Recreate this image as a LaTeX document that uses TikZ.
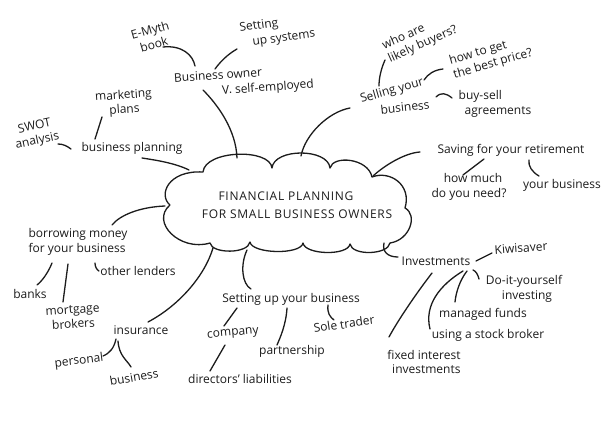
\documentclass[tikz,border=0pt]{standalone}
\usepackage{fontspec}
\setmainfont{Open Sans}
\definecolor{ink}{HTML}{1C1C1C}
\begin{document}
\begin{tikzpicture}[x=1pt,y=-1pt,
  lbl/.style={font=\fontsize{12}{14.5}\selectfont, inner sep=1pt, align=center, text=ink},
  ttl/.style={font=\fontsize{12}{13}\selectfont\addfontfeature{LetterSpace=6}, inner sep=1pt, text=ink},
  con/.style={draw=ink, line width=1.3pt, line cap=round, line join=round},
]
\useasboundingbox (0,0) rectangle (602,423);
\fill[white] (0,0) rectangle (602,423);

% ---------- cloud ----------
\draw[con] (170,205) .. controls (158,195) and (168,170) .. (203,172)
  .. controls (205,150) and (270,148) .. (272,168)
  .. controls (274,148) and (328,148) .. (330,168)
  .. controls (333,155) and (368,158) .. (372,177)
  .. controls (390,170) and (412,185) .. (405,208)
  .. controls (418,215) and (410,240) .. (390,243)
  .. controls (388,255) and (352,256) .. (350,244)
  .. controls (348,256) and (305,255) .. (303,243)
  .. controls (301,255) and (252,254) .. (250,242)
  .. controls (248,254) and (212,254) .. (210,243)
  .. controls (180,252) and (150,222) .. (170,205) -- cycle;
\node[ttl] (t1) at (286,196) {FINANCIAL PLANNING};
\node[ttl] (t2) at (297,214) {FOR SMALL BUSINESS OWNERS};

% cloud attachment points
\coordinate (cTopL) at (237,158);
\coordinate (cTopM) at (301,156);
\coordinate (cTopR) at (373,176);
\coordinate (cLeftTop) at (189,170);
\coordinate (cLeft) at (165,206);
\coordinate (cBotL) at (213,248);
\coordinate (cBotM) at (247,250);
\coordinate (cBotR) at (384,243);

% ---------- labels ----------
\node[lbl, rotate=16] (emyth) at (152,37) {E-Myth\\book};
\node[lbl, rotate=8] (sysA) at (259,26) {Setting};
\node[lbl, rotate=8] (sysB) at (284,39) {up systems};
\node[lbl, rotate=4] (boA) at (218,75) {Business owner};
\node[lbl, rotate=4] (boB) at (268,88) {V. self-employed};
\node[lbl, rotate=4] (mkt) at (124,103) {marketing\\plans};
\node[lbl, rotate=12] (swot) at (36,134) {SWOT\\analysis};
\node[lbl] (bp) at (132,148) {business planning};

\node[lbl, rotate=24, align=left] (who) at (420,38) {who are\\likely buyers?};
\node[lbl, rotate=16, align=left] (price) at (491,57) {how to get\\the best price?};
\node[lbl, rotate=16] (sellA) at (392,91) {Selling your};
\node[lbl, rotate=6] (sellB) at (405,107) {business};
\node[lbl, align=left] (buysell) at (495,104) {buy-sell\\\hspace*{6pt}agreements};

\node[lbl] (saving) at (511,150) {Saving for your retirement};
\node[lbl] (howmuch) at (469,187) {\hspace*{8pt}how much\\do you need?};
\node[lbl] (yourbiz) at (562,185) {your business};

\node[lbl, align=left] (borrow) at (78,242) {borrowing money\\for your business};
\node[lbl] (other) at (138,271) {other lenders};
\node[lbl] (banks) at (30,294) {banks};
\node[lbl, rotate=4] (mortgage) at (73,317) {mortgage\\brokers};
\node[lbl] (insur) at (141,330) {insurance};
\node[lbl, rotate=7] (personal) at (79,361) {personal};
\node[lbl, rotate=10] (biz2) at (134,377) {business};

\node[lbl] (setup) at (291,299) {Setting up your business};
\node[lbl, rotate=5] (company) at (233,334) {company};
\node[lbl] (directors) at (240,379) {directors' liabilities};
\node[lbl] (partner) at (292,351) {partnership};
\node[lbl, rotate=8] (sole) at (344,324) {Sole trader};

\node[lbl] (invest) at (436,261) {Investments};
\node[lbl, rotate=4] (kiwi) at (521,248) {Kiwisaver};
\node[lbl] (diy) at (524,289) {Do-it-yourself\\\hspace*{6pt}investing};
\node[lbl] (managed) at (483,314) {managed funds};
\node[lbl] (stock) at (488,335) {using a stock broker};
\node[lbl, align=right] (fixed) at (424,362) {fixed interest\\investments};

% ---------- connectors ----------
% business owner branch
\coordinate (boS) at (203,90);
\draw[con] (cTopL) .. controls (236,130) and (218,105) .. (boS);
\coordinate (emE) at (163,47); \coordinate (boW) at (195,66);
\draw[con] (emE) .. controls (182,45) and (193,55) .. (boW);
\coordinate (sysS) at (237,49); \coordinate (boN) at (215,69);
\draw[con] (sysS) .. controls (228,54) and (220,62) .. (boN);

% business planning branch
\coordinate (bpE) at (142,158);
\draw[con] (cLeftTop) .. controls (175,163) and (155,160) .. (bpE);
\coordinate (mktS) at (102,117); \coordinate (bpN) at (95,139);
\draw[con] (mktS) -- (bpN);
\coordinate (swE) at (58,144); \coordinate (bpW) at (71,149);
\draw[con] (swE) .. controls (63,144) and (67,146) .. (bpW);

% selling branch
\coordinate (sellW) at (350,108);
\draw[con] (cTopM) .. controls (305,135) and (328,112) .. (sellW);
\coordinate (whoS) at (385,60); \coordinate (sellN) at (379,86);
\draw[con] (whoS) .. controls (381,69) and (379,78) .. (sellN);
\coordinate (prW) at (443,69); \coordinate (sellE) at (424,80);
\draw[con] (prW) .. controls (434,70) and (428,74) .. (sellE);
\coordinate (bsW) at (452,98); \coordinate (sellE2) at (436,97);
\draw[con] (sellE2) .. controls (441,92) and (446,93) .. (bsW);

% saving branch
\coordinate (svW) at (420,152);
\draw[con] (cTopR) .. controls (385,165) and (405,153) .. (svW);
\coordinate (hmN) at (463,175); \coordinate (svS1) at (484,159);
\draw[con] (hmN) -- (svS1);
\coordinate (ybN) at (539,176); \coordinate (svS2) at (529,160);
\draw[con] (ybN) .. controls (532,172) and (528,166) .. (svS2);

% investments branch
\coordinate (invW) at (398,257);
\draw[con] (cBotR) .. controls (382,252) and (388,257) .. (invW);
\coordinate (invE) at (476,261); \coordinate (kiW) at (492,253);
\draw[con] (invE) -- (kiW);
\coordinate (invSE) at (473,270); \coordinate (diyW) at (479,279);
\draw[con] (invSE) .. controls (476,271) and (478,275) .. (diyW);
\coordinate (invS1) at (432,273); \coordinate (fxN) at (389,337);
\draw[con] (invS1) .. controls (415,295) and (397,322) .. (fxN);
\coordinate (invS2) at (463,271); \coordinate (stW) at (430,329);
\draw[con] (invS2) .. controls (440,285) and (424,305) .. (stW);
\coordinate (invS3) at (467,271); \coordinate (mgN) at (455,302);
\draw[con] (invS3) .. controls (460,280) and (456,292) .. (mgN);

% setting up branch
\coordinate (suN) at (251,289);
\draw[con] (cBotM) .. controls (240,265) and (242,284) .. (suN);
\coordinate (suS1) at (237,308); \coordinate (coN) at (224,326);
\draw[con] (suS1) -- (coN);
\coordinate (coS) at (225,345); \coordinate (diN) at (210,371);
\draw[con] (coS) -- (diN);
\coordinate (suS2) at (287,308); \coordinate (paN) at (277,345);
\draw[con] (suS2) .. controls (286,325) and (280,338) .. (paN);
\coordinate (suS3) at (328,305); \coordinate (soN) at (334,320);
\draw[con] (suS3) .. controls (327,313) and (330,317) .. (soN);

% insurance branch
\coordinate (inN) at (148,322);
\draw[con] (cBotL) .. controls (205,275) and (180,305) .. (inN);
\coordinate (inS) at (116,339); \coordinate (peN) at (103,356);
\draw[con] (inS) .. controls (114,348) and (110,353) .. (peN);
\coordinate (inS2) at (118,341); \coordinate (b2N) at (131,367);
\draw[con] (inS2) .. controls (119,356) and (127,360) .. (b2N);

% borrowing branch
\coordinate (boE) at (112,225);
\draw[con] (cLeft) .. controls (140,207) and (120,215) .. (boE);
\coordinate (brS1) at (52,263); \coordinate (bkN) at (37,285);
\draw[con] (brS1) .. controls (48,273) and (42,281) .. (bkN);
\coordinate (brS2) at (68,264); \coordinate (moN) at (63,302);
\draw[con] (brS2) -- (moN);
\coordinate (brS3) at (95,263); \coordinate (otW) at (99,271);
\draw[con] (brS3) .. controls (95,267) and (97,270) .. (otW);
\end{tikzpicture}
\end{document}
